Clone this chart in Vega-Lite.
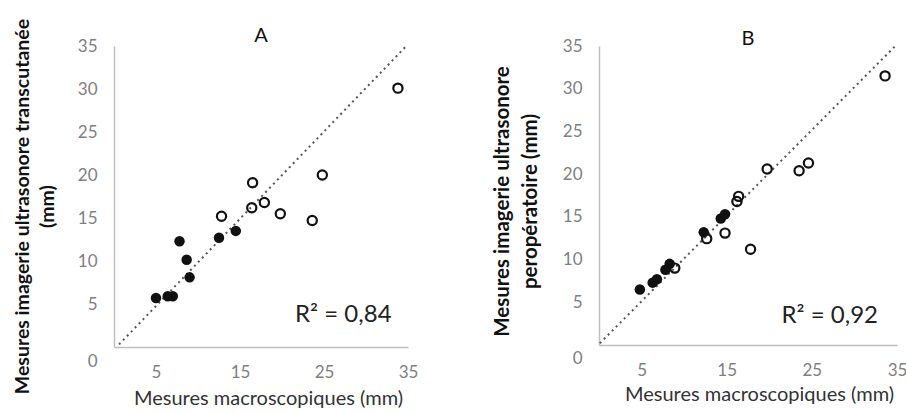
{
  "$schema": "https://vega.github.io/schema/vega-lite/v6.json",
  "padding": {"left": 12, "top": 18, "right": 5, "bottom": 5},
  "spacing": 74,
  "config": {
    "view": {"stroke": null},
    "font": "Lato",
    "title": {"font": "Lato", "fontWeight": "normal", "fontSize": 20, "color": "#111", "frame": "group", "offset": 2, "anchor": "middle"},
    "axis": {"domainColor": "#bfbfbf", "domainWidth": 1.5, "ticks": false, "grid": false, "labelColor": "#808080", "labelFontSize": 17, "labelFont": "Lato", "titleFont": "Lato", "labelPadding": 17, "labelFlush": false, "labelOverlap": false}
  },
  "datasets": {
    "ptsA": [
      {"x": 5.0, "y": 5.7, "g": "filled"}, {"x": 6.4, "y": 5.9, "g": "filled"}, {"x": 7.0, "y": 5.9, "g": "filled"},
      {"x": 7.8, "y": 12.3, "g": "filled"}, {"x": 8.65, "y": 10.15, "g": "filled"}, {"x": 9.0, "y": 8.1, "g": "filled"},
      {"x": 12.5, "y": 12.7, "g": "filled"}, {"x": 14.5, "y": 13.5, "g": "filled"},
      {"x": 12.8, "y": 15.2, "g": "open"}, {"x": 16.5, "y": 19.1, "g": "open"}, {"x": 16.4, "y": 16.2, "g": "open"},
      {"x": 17.9, "y": 16.8, "g": "open"}, {"x": 19.8, "y": 15.5, "g": "open"}, {"x": 23.6, "y": 14.7, "g": "open"},
      {"x": 24.8, "y": 20.0, "g": "open"}, {"x": 33.8, "y": 30.1, "g": "open"}
    ],
    "ptsB": [
      {"x": 4.8, "y": 6.5, "g": "filled"}, {"x": 6.3, "y": 7.3, "g": "filled"}, {"x": 6.8, "y": 7.7, "g": "filled"},
      {"x": 7.8, "y": 8.8, "g": "filled"}, {"x": 8.3, "y": 9.5, "g": "filled"}, {"x": 12.3, "y": 13.2, "g": "filled"},
      {"x": 14.3, "y": 14.8, "g": "filled"}, {"x": 14.8, "y": 15.3, "g": "filled"},
      {"x": 8.9, "y": 9.0, "g": "open"}, {"x": 12.65, "y": 12.45, "g": "open"}, {"x": 14.8, "y": 13.1, "g": "open"},
      {"x": 16.2, "y": 16.8, "g": "open"}, {"x": 16.4, "y": 17.4, "g": "open"}, {"x": 17.8, "y": 11.2, "g": "open"},
      {"x": 19.75, "y": 20.6, "g": "open"}, {"x": 23.5, "y": 20.4, "g": "open"}, {"x": 24.6, "y": 21.3, "g": "open"},
      {"x": 33.6, "y": 31.5, "g": "open"}
    ],
    "lineA": [{"x": 0.6, "y": 0.3}, {"x": 34.8, "y": 35.0}],
    "lineB": [{"x": 0.1, "y": 0.2}, {"x": 34.8, "y": 35.0}],
    "r2A": [{"x": 27.3, "y": 3.7, "label": "R² = 0,84"}],
    "r2B": [{"x": 27.1, "y": 3.4, "label": "R² = 0,92"}]
  },
  "hconcat": [
    {
      "width": 294,
      "height": 301,
      "title": {"text": "A", "dy": 30},
      "layer": [
        {
          "data": {"name": "lineA"},
          "mark": {"type": "line", "strokeDash": [2, 3.7], "strokeWidth": 2, "color": "#555"},
          "encoding": {
            "x": {"field": "x", "type": "quantitative", "scale": {"domain": [0, 35], "nice": false},
              "axis": {"values": [5, 15, 25, 35], "title": "Mesures macroscopiques (mm)", "titleFontSize": 20, "titleFontWeight": "normal", "titleColor": "#333", "titlePadding": 8, "titleX": 154}},
            "y": {"field": "y", "type": "quantitative", "scale": {"domain": [0, 35], "nice": false},
              "axis": {"values": [0, 5, 10, 15, 20, 25, 30, 35], "title": ["Mesures imagerie ultrasonore transcutanée", "(mm)"], "titleFontSize": 19.5, "titleFontWeight": "bold", "titleColor": "#111", "titlePadding": 20, "titleLineHeight": 25, "titleY": 160,
                "labelOffset": {"condition": {"test": "datum.value === 0", "value": 14}, "value": 0}}}
          }
        },
        {
          "data": {"name": "ptsA"},
          "transform": [{"filter": "datum.g === 'filled'"}],
          "mark": {"type": "point", "filled": true, "size": 110, "color": "#111", "opacity": 1},
          "encoding": {"x": {"field": "x", "type": "quantitative"}, "y": {"field": "y", "type": "quantitative"}}
        },
        {
          "data": {"name": "ptsA"},
          "transform": [{"filter": "datum.g === 'open'"}],
          "mark": {"type": "point", "filled": false, "size": 85, "strokeWidth": 2.2, "color": "#111", "opacity": 1},
          "encoding": {"x": {"field": "x", "type": "quantitative"}, "y": {"field": "y", "type": "quantitative"}}
        },
        {
          "data": {"name": "r2A"},
          "mark": {"type": "text", "fontSize": 24, "color": "#222", "align": "center", "baseline": "middle"},
          "encoding": {"x": {"field": "x", "type": "quantitative"}, "y": {"field": "y", "type": "quantitative"}, "text": {"field": "label"}}
        }
      ]
    },
    {
      "width": 298,
      "height": 299,
      "title": {"text": "B", "dy": 14},
      "layer": [
        {
          "data": {"name": "lineB"},
          "mark": {"type": "line", "strokeDash": [2, 3.7], "strokeWidth": 2, "color": "#555"},
          "encoding": {
            "x": {"field": "x", "type": "quantitative", "scale": {"domain": [0, 35], "nice": false},
              "axis": {"values": [5, 15, 25, 35], "title": "Mesures macroscopiques (mm)", "titleFontSize": 20, "titleFontWeight": "normal", "titleColor": "#333", "titlePadding": 6, "titleX": 160}},
            "y": {"field": "y", "type": "quantitative", "scale": {"domain": [0, 35], "nice": false},
              "axis": {"values": [0, 5, 10, 15, 20, 25, 30, 35], "title": ["Mesures imagerie ultrasonore", "peropératoire (mm)"], "titleFontSize": 20.5, "titleFontWeight": "bold", "titleColor": "#111", "titlePadding": 22, "titleLineHeight": 28, "titleY": 155,
                "labelOffset": {"condition": {"test": "datum.value === 0", "value": 13}, "value": 0}}}
          }
        },
        {
          "data": {"name": "ptsB"},
          "transform": [{"filter": "datum.g === 'filled'"}],
          "mark": {"type": "point", "filled": true, "size": 110, "color": "#111", "opacity": 1},
          "encoding": {"x": {"field": "x", "type": "quantitative"}, "y": {"field": "y", "type": "quantitative"}}
        },
        {
          "data": {"name": "ptsB"},
          "transform": [{"filter": "datum.g === 'open'"}],
          "mark": {"type": "point", "filled": false, "size": 85, "strokeWidth": 2.2, "color": "#111", "opacity": 1},
          "encoding": {"x": {"field": "x", "type": "quantitative"}, "y": {"field": "y", "type": "quantitative"}}
        },
        {
          "data": {"name": "r2B"},
          "mark": {"type": "text", "fontSize": 24, "color": "#222", "align": "center", "baseline": "middle"},
          "encoding": {"x": {"field": "x", "type": "quantitative"}, "y": {"field": "y", "type": "quantitative"}, "text": {"field": "label"}}
        }
      ]
    }
  ]
}
